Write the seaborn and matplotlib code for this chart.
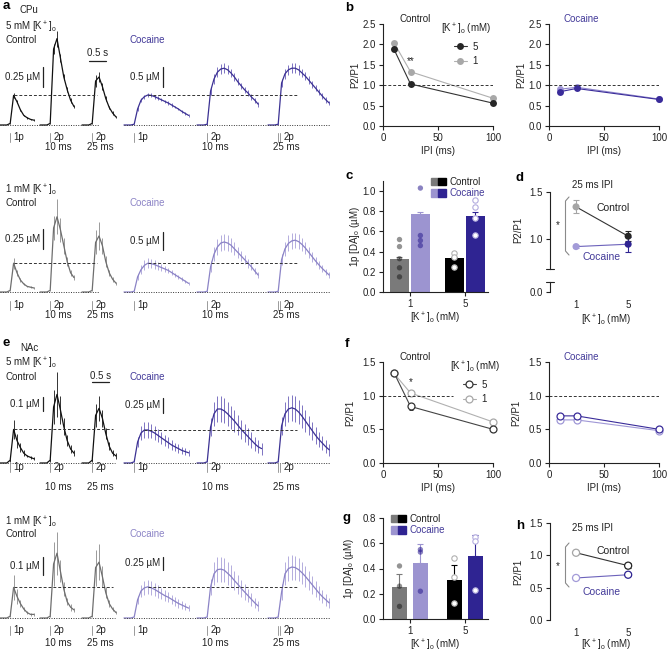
"""Paired-pulse DA release: CPu / NAc FSCV traces and P2/P1, 1p [DA]o summaries."""

import numpy as np
import matplotlib
matplotlib.use("Agg")
import matplotlib.pyplot as plt
from matplotlib.lines import Line2D
from matplotlib.patches import Patch
from matplotlib.legend_handler import HandlerTuple
import seaborn as sns

# ---------------- data ----------------
DT = 0.1  # s between FSCV samples, traces start 0.3 s before stim

# CPu 5 mM [K+]o, [DA]o in uM
cpu5_ctl_1p = [0, 0, 0, 0.02, 0.37, 0.29, 0.19, 0.12, 0.09, 0.07, 0.06]
cpu5_ctl_1p_sem = [0, 0, 0, 0.01, 0.03, 0.02, 0.015, 0.01, 0.01, 0.01, 0.01]
cpu5_ctl_10 = [0, 0, 0, 0.02, 0.95, 1.08, 0.84, 0.60, 0.44, 0.31, 0.23]
cpu5_ctl_10_sem = [0, 0, 0, 0.01, 0.06, 0.10, 0.05, 0.04, 0.03, 0.03, 0.02]
cpu5_ctl_25 = [0, 0, 0, 0.02, 0.55, 0.60, 0.48, 0.33, 0.22, 0.15, 0.10]
cpu5_ctl_25_sem = [0, 0, 0, 0.01, 0.08, 0.06, 0.04, 0.03, 0.02, 0.02, 0.01]
cpu5_coc_1p = [0, 0, 0, 0.02, 0.40, 0.62, 0.71, 0.75, 0.74, 0.71, 0.67, 0.63, 0.59, 0.55, 0.50, 0.45, 0.40, 0.34, 0.29, 0.24]
cpu5_coc_1p_sem = [0, 0, 0, 0.01, 0.04, 0.05, 0.05, 0.05, 0.05, 0.05, 0.05, 0.04, 0.04, 0.04, 0.04, 0.03, 0.03, 0.03, 0.03, 0.03]
cpu5_coc_10 = [0, 0, 0, 0.02, 0.85, 1.15, 1.32, 1.40, 1.42, 1.38, 1.30, 1.20, 1.08, 0.98, 0.88, 0.80, 0.70, 0.62, 0.52]
cpu5_coc_10_sem = [0, 0, 0, 0.02, 0.10, 0.12, 0.12, 0.12, 0.12, 0.11, 0.10, 0.10, 0.09, 0.08, 0.08, 0.07, 0.07, 0.06, 0.06]
cpu5_coc_25 = [0, 0, 0, 0.02, 1.05, 1.28, 1.38, 1.42, 1.42, 1.38, 1.30, 1.22, 1.12, 1.02, 0.92, 0.82, 0.72, 0.63, 0.55]
cpu5_coc_25_sem = [0, 0, 0, 0.02, 0.10, 0.12, 0.13, 0.13, 0.13, 0.12, 0.11, 0.10, 0.10, 0.09, 0.08, 0.08, 0.07, 0.07, 0.06]

# CPu 1 mM [K+]o
cpu1_ctl_1p = [0, 0, 0, 0.02, 0.36, 0.24, 0.15, 0.10, 0.07, 0.06, 0.05]
cpu1_ctl_1p_sem = [0, 0, 0, 0.01, 0.07, 0.04, 0.02, 0.01, 0.01, 0.01, 0.01]
cpu1_ctl_10 = [0, 0, 0, 0.02, 0.80, 0.94, 0.78, 0.58, 0.38, 0.24, 0.18]
cpu1_ctl_10_sem = [0, 0, 0, 0.01, 0.15, 0.22, 0.15, 0.10, 0.06, 0.04, 0.03]
cpu1_ctl_25 = [0, 0, 0, 0.02, 0.62, 0.70, 0.58, 0.38, 0.24, 0.16, 0.11]
cpu1_ctl_25_sem = [0, 0, 0, 0.01, 0.15, 0.18, 0.10, 0.07, 0.04, 0.03, 0.02]
cpu1_coc_1p = [0, 0, 0, 0.02, 0.42, 0.62, 0.74, 0.80, 0.79, 0.76, 0.72, 0.68, 0.64, 0.60, 0.54, 0.48, 0.42, 0.36, 0.30, 0.24]
cpu1_coc_1p_sem = [0, 0, 0, 0.01, 0.08, 0.12, 0.14, 0.14, 0.13, 0.12, 0.11, 0.10, 0.09, 0.08, 0.07, 0.06, 0.05, 0.05, 0.04, 0.04]
cpu1_coc_10 = [0, 0, 0, 0.02, 0.70, 1.05, 1.25, 1.36, 1.39, 1.36, 1.30, 1.20, 1.10, 1.00, 0.90, 0.80, 0.70, 0.58, 0.47]
cpu1_coc_10_sem = [0, 0, 0, 0.01, 0.15, 0.20, 0.22, 0.22, 0.22, 0.21, 0.20, 0.18, 0.16, 0.15, 0.13, 0.12, 0.10, 0.09, 0.08]
cpu1_coc_25 = [0, 0, 0, 0.02, 0.90, 1.20, 1.35, 1.42, 1.44, 1.40, 1.32, 1.22, 1.10, 0.98, 0.86, 0.75, 0.65, 0.56, 0.47]
cpu1_coc_25_sem = [0, 0, 0, 0.01, 0.15, 0.20, 0.22, 0.22, 0.21, 0.20, 0.19, 0.17, 0.15, 0.14, 0.12, 0.11, 0.10, 0.09, 0.08]

# NAc 5 mM [K+]o
nac5_ctl_1p = [0, 0, 0, 0.02, 0.24, 0.16, 0.11, 0.07, 0.05, 0.04, 0.03]
nac5_ctl_1p_sem = [0, 0, 0, 0.01, 0.07, 0.05, 0.03, 0.02, 0.01, 0.01, 0.01]
nac5_ctl_10 = [0, 0, 0, 0.02, 0.40, 0.49, 0.38, 0.26, 0.16, 0.10, 0.07]
nac5_ctl_10_sem = [0, 0, 0, 0.01, 0.12, 0.16, 0.10, 0.06, 0.04, 0.03, 0.02]
nac5_ctl_25 = [0, 0, 0, 0.02, 0.34, 0.39, 0.32, 0.21, 0.12, 0.07, 0.05]
nac5_ctl_25_sem = [0, 0, 0, 0.01, 0.08, 0.09, 0.06, 0.04, 0.03, 0.02, 0.02]
nac5_coc_1p = [0, 0, 0, 0.02, 0.35, 0.50, 0.55, 0.55, 0.53, 0.50, 0.46, 0.42, 0.38, 0.34, 0.30, 0.27, 0.24, 0.21, 0.19, 0.17]
nac5_coc_1p_sem = [0, 0, 0, 0.01, 0.08, 0.12, 0.13, 0.13, 0.12, 0.11, 0.11, 0.10, 0.09, 0.09, 0.08, 0.07, 0.07, 0.06, 0.06, 0.05]
nac5_coc_10 = [0, 0, 0, 0.02, 0.60, 0.82, 0.90, 0.90, 0.87, 0.82, 0.76, 0.70, 0.63, 0.56, 0.50, 0.44, 0.38, 0.32, 0.27, 0.24]
nac5_coc_10_sem = [0, 0, 0, 0.01, 0.15, 0.20, 0.22, 0.22, 0.21, 0.20, 0.19, 0.18, 0.17, 0.16, 0.15, 0.14, 0.13, 0.12, 0.11, 0.10]
nac5_coc_25 = [0, 0, 0, 0.02, 0.62, 0.82, 0.90, 0.92, 0.90, 0.85, 0.78, 0.70, 0.62, 0.54, 0.46, 0.39, 0.33, 0.27, 0.22]
nac5_coc_25_sem = [0, 0, 0, 0.01, 0.15, 0.20, 0.22, 0.22, 0.21, 0.20, 0.19, 0.18, 0.16, 0.15, 0.14, 0.13, 0.12, 0.11, 0.10]

# NAc 1 mM [K+]o
nac1_ctl_1p = [0, 0, 0, 0.01, 0.17, 0.12, 0.08, 0.05, 0.03, 0.02, 0.02]
nac1_ctl_1p_sem = [0, 0, 0, 0.005, 0.07, 0.04, 0.02, 0.01, 0.01, 0.01, 0.01]
nac1_ctl_10 = [0, 0, 0, 0.01, 0.30, 0.36, 0.26, 0.16, 0.09, 0.06, 0.045]
nac1_ctl_10_sem = [0, 0, 0, 0.005, 0.12, 0.12, 0.06, 0.04, 0.02, 0.02, 0.01]
nac1_ctl_25 = [0, 0, 0, 0.01, 0.28, 0.31, 0.23, 0.14, 0.08, 0.05, 0.03]
nac1_ctl_25_sem = [0, 0, 0, 0.005, 0.10, 0.10, 0.06, 0.03, 0.02, 0.01, 0.01]
nac1_coc_1p = [0, 0, 0, 0.02, 0.35, 0.52, 0.58, 0.60, 0.58, 0.55, 0.51, 0.47, 0.43, 0.40, 0.36, 0.32, 0.28, 0.25, 0.22, 0.19]
nac1_coc_1p_sem = [0, 0, 0, 0.01, 0.08, 0.12, 0.14, 0.14, 0.13, 0.13, 0.12, 0.11, 0.10, 0.10, 0.09, 0.08, 0.08, 0.07, 0.07, 0.06]
nac1_coc_10 = [0, 0, 0, 0.02, 0.60, 0.85, 0.93, 0.94, 0.92, 0.86, 0.80, 0.72, 0.65, 0.57, 0.50, 0.43, 0.36, 0.29, 0.23]
nac1_coc_10_sem = [0, 0, 0, 0.01, 0.15, 0.22, 0.24, 0.24, 0.23, 0.22, 0.21, 0.19, 0.18, 0.16, 0.15, 0.13, 0.12, 0.10, 0.09]
nac1_coc_25 = [0, 0, 0, 0.02, 0.50, 0.85, 0.95, 0.98, 0.97, 0.93, 0.87, 0.80, 0.72, 0.64, 0.56, 0.48, 0.41, 0.35, 0.29]
nac1_coc_25_sem = [0, 0, 0, 0.01, 0.15, 0.22, 0.24, 0.24, 0.23, 0.22, 0.21, 0.20, 0.18, 0.17, 0.15, 0.14, 0.12, 0.11, 0.10]

# P2/P1 vs IPI
ipi_ms = [10, 25, 100]
b_ctl5 = [1.88, 1.03, 0.56]
b_ctl5_sem = [0.04, 0.03, 0.03]
b_ctl1 = [2.04, 1.33, 0.68]
b_ctl1_sem = [0.03, 0.05, 0.03]
b_coc5 = [0.84, 0.92, 0.65]
b_coc5_sem = [0.03, 0.03, 0.02]
b_coc1 = [0.90, 0.95, 0.66]
b_coc1_sem = [0.02, 0.03, 0.02]
f_ctl5 = [1.34, 0.84, 0.50]
f_ctl5_sem = [0.02, 0.05, 0.04]
f_ctl1 = [1.33, 1.04, 0.61]
f_ctl1_sem = [0.02, 0.03, 0.03]
f_coc5 = [0.70, 0.70, 0.50]
f_coc5_sem = [0.02, 0.02, 0.02]
f_coc1 = [0.64, 0.64, 0.48]
f_coc1_sem = [0.02, 0.02, 0.02]

# 1p [DA]o bars, [K+]o = 1, 5 mM
conc = ["1", "5"]
c_ctl_mean = [0.33, 0.335]
c_ctl_sem = [0.02, 0.015]
c_coc_mean = [0.77, 0.75]
c_coc_sem = [0.02, 0.04]
c_pts = [[0.52, 0.45, 0.33, 0.24, 0.15], [1.03, 0.56, 0.51, 0.46],
         [0.39, 0.35, 0.25], [0.91, 0.84, 0.73, 0.56]]
g_ctl_mean = [0.255, 0.31]
g_ctl_sem = [0.105, 0.12]
g_coc_mean = [0.44, 0.50]
g_coc_sem = [0.155, 0.165]
g_pts = [[0.42, 0.26, 0.10], [0.55, 0.53, 0.22], [0.48, 0.33, 0.13], [0.65, 0.62, 0.23]]

# P2/P1 at 25 ms IPI
d_ctl = [1.34, 1.03]
d_ctl_sem = [0.07, 0.055]
d_coc = [0.92, 0.945]
d_coc_sem = [0.02, 0.08]
h_ctl = [1.04, 0.84]
h_ctl_sem = [0.02, 0.04]
h_coc = [0.65, 0.70]
h_coc_sem = [0.02, 0.02]

# ---------------- style ----------------
W, H = 667, 653
PX_PER_S = 34.0
CTL_START = [0, 40, 82]
COC_START = [124, 197, 268]
BAR_POS = [-0.19, 0.19, 0.81, 1.19]
BAR_COLS = ["#7a7a7a", "#9c94d0", "#000000", "#2f2492"]
COC_TXT = "#433a99"
COC_TXT_L = "#8c84c6"
INK = "#222222"

sns.set_theme(style="ticks")
plt.rcParams["font.family"] = ["Liberation Sans", "DejaVu Sans"]
plt.rcParams.update({
    "font.size": 7, "mathtext.default": "regular",
    "axes.linewidth": 0.8, "axes.edgecolor": INK, "text.color": INK,
    "xtick.major.size": 3, "ytick.major.size": 3,
    "xtick.major.width": 0.8, "ytick.major.width": 0.8,
    "xtick.major.pad": 2, "ytick.major.pad": 2,
    "xtick.labelsize": 7, "ytick.labelsize": 7,
    "axes.labelsize": 7, "legend.fontsize": 7,
    "xtick.color": INK, "ytick.color": INK, "axes.labelcolor": INK,
})

fig = plt.figure(figsize=(W / 100, H / 100), dpi=100)


def px_axes(x0, y0, x1, y1):
    return fig.add_axes([x0 / W, 1 - y1 / H, (x1 - x0) / W, (y1 - y0) / H])


def ftext(x, y, s, **kw):
    kw.setdefault("fontsize", 7)
    kw.setdefault("va", "center")
    fig.text(x / W, 1 - y / H, s, **kw)


def fline(xs, ys, **kw):
    fig.add_artist(Line2D([x / W for x in xs], [1 - y / H for y in ys],
                          transform=fig.transFigure, **kw))


# ---------------- traces ----------------
def draw_traces(x0, x1, top, base, k, traces, starts, col, ecol,
                dash_end, dot_end, lab_dy, ms_dy, double_last):
    ax = px_axes(x0, top, x1, base + 2)
    ax.set_xlim(0, (x1 - x0) / PX_PER_S)
    ax.set_ylim(-2 / k, (base - top) / k)
    ax.axis("off")
    t_stim = []
    peak = None
    for i, ((v, s), st) in enumerate(zip(traces, starts)):
        t = (st - x0) / PX_PER_S + DT * np.arange(len(v))
        ax.errorbar(t, v, yerr=s, fmt="none", ecolor=ecol, elinewidth=0.7, capsize=0)
        sns.lineplot(x=t, y=v, ax=ax, color=col, lw=0.9)
        t_stim.append(t[3])
        if i == 0:
            j = int(np.argmax(v))
            peak = (t[j], v[j])
    ax.plot([peak[0], (dash_end - x0) / PX_PER_S], [peak[1], peak[1]],
            ls=(0, (3, 2)), color="#333333", lw=0.7)
    ax.plot([(starts[0] - x0) / PX_PER_S, (dot_end - x0) / PX_PER_S], [0, 0],
            ls=(0, (1, 1.5)), color="#333333", lw=0.7)
    yl = -lab_dy / k
    for i, ts in enumerate(t_stim):
        marks = [ts, ts + 0.06] if (double_last and i == 2) else [ts]
        for tt in marks:
            ax.plot([tt, tt], [yl - 4.5 / k, yl + 4.5 / k], color="#9a9a9a",
                    lw=0.7, clip_on=False)
        ax.annotate("1p" if i == 0 else "2p", (marks[-1], yl), xytext=(3, 0),
                    textcoords="offset pixels", ha="left", va="center",
                    fontsize=7, annotation_clip=False)
        if i:
            ax.annotate(["", "10 ms", "25 ms"][i], (ts, yl),
                        xytext=(8, -(ms_dy - lab_dy)), textcoords="offset pixels",
                        ha="center", va="center", fontsize=7, annotation_clip=False)
    return ax


def scale_bar(ax, x0, base, k, bar_x, bar_bot, length, label):
    bx = (bar_x - x0) / PX_PER_S
    yb = (base - bar_bot) / k
    ax.plot([bx, bx], [yb, yb + length], color=INK, lw=0.9, clip_on=False)
    ax.annotate(label, (bx, yb + length / 2), xytext=(-3, 0), textcoords="offset pixels",
                ha="right", va="center", fontsize=7, annotation_clip=False)


def time_bar(ax, base, k, bar_x, bar_y, gap):
    tx = bar_x / PX_PER_S
    y = (base - bar_y) / k
    ax.plot([tx, tx + 0.5], [y, y], color=INK, lw=0.9, clip_on=False)
    ax.annotate("0.5 s", (tx + 0.25, y), xytext=(0, gap), textcoords="offset pixels",
                ha="center", va="center", fontsize=7, annotation_clip=False)


def trace_row(base, top, k_ctl, k_coc, ctl, coc, ctl_cols, coc_cols, bars,
              lab_dy, ms_dy, ctl_end, tbar=None):
    axc = draw_traces(0, 118, top, base, k_ctl, ctl, CTL_START, *ctl_cols,
                      ctl_end - 2, ctl_end, lab_dy, ms_dy, False)
    scale_bar(axc, 0, base, k_ctl, 43, *bars[0])
    axk = draw_traces(122, 332, top, base, k_coc, coc, COC_START, *coc_cols,
                      297, 330, lab_dy, ms_dy, True)
    scale_bar(axk, 122, base, k_coc, 163, *bars[1])
    if tbar:
        time_bar(axc, base, k_ctl, *tbar)


DARK = ("#111111", "#333333")
GREY = ("#6e6e6e", "#9a9a9a")
COC_D = ("#3b3193", "#7d73c2")
COC_L = ("#8b83c6", "#b4addd")

trace_row(125, 18, 80, 40,
          [(cpu5_ctl_1p, cpu5_ctl_1p_sem), (cpu5_ctl_10, cpu5_ctl_10_sem), (cpu5_ctl_25, cpu5_ctl_25_sem)],
          [(cpu5_coc_1p, cpu5_coc_1p_sem), (cpu5_coc_10, cpu5_coc_10_sem), (cpu5_coc_25, cpu5_coc_25_sem)],
          DARK, COC_D, [(87, 0.25, "0.25 µM"), (87, 0.5, "0.5 µM")], 12, 22, 99, (89, 61, 8))
trace_row(292, 185, 80, 36,
          [(cpu1_ctl_1p, cpu1_ctl_1p_sem), (cpu1_ctl_10, cpu1_ctl_10_sem), (cpu1_ctl_25, cpu1_ctl_25_sem)],
          [(cpu1_coc_1p, cpu1_coc_1p_sem), (cpu1_coc_10, cpu1_coc_10_sem), (cpu1_coc_25, cpu1_coc_25_sem)],
          GREY, COC_L, [(249, 0.25, "0.25 µM"), (250, 0.5, "0.5 µM")], 13, 23, 99)
trace_row(463, 355, 140, 60,
          [(nac5_ctl_1p, nac5_ctl_1p_sem), (nac5_ctl_10, nac5_ctl_10_sem), (nac5_ctl_25, nac5_ctl_25_sem)],
          [(nac5_coc_1p, nac5_coc_1p_sem), (nac5_coc_10, nac5_coc_10_sem), (nac5_coc_25, nac5_coc_25_sem)],
          DARK, COC_D, [(411, 0.1, "0.1 µM"), (413, 0.25, "0.25 µM")], 4, 24, 115, (92, 382, 6))
trace_row(618, 515, 180, 52,
          [(nac1_ctl_1p, nac1_ctl_1p_sem), (nac1_ctl_10, nac1_ctl_10_sem), (nac1_ctl_25, nac1_ctl_25_sem)],
          [(nac1_coc_1p, nac1_coc_1p_sem), (nac1_coc_10, nac1_coc_10_sem), (nac1_coc_25, nac1_coc_25_sem)],
          GREY, COC_L, [(575, 0.1, "0.1 µM"), (570, 0.25, "0.25 µM")], 12, 25, 115)

ftext(20, 10, "CPu")
ftext(5, 27, "5 mM [K$^+$]$_o$")
ftext(5, 40, "Control")
ftext(130, 40, "Cocaine", color=COC_TXT)
ftext(5, 190, "1 mM [K$^+$]$_o$")
ftext(5, 203, "Control")
ftext(130, 203, "Cocaine", color=COC_TXT_L)
ftext(20, 348, "NAc")
ftext(5, 363, "5 mM [K$^+$]$_o$")
ftext(5, 377, "Control")
ftext(130, 377, "Cocaine", color=COC_TXT)
ftext(5, 522, "1 mM [K$^+$]$_o$")
ftext(5, 534, "Control")
ftext(130, 534, "Cocaine", color=COC_TXT_L)

for lab, x, y in [("a", 3, 6), ("b", 345, 8), ("c", 345, 176), ("d", 516, 178),
                  ("e", 3, 343), ("f", 345, 344), ("g", 343, 518), ("h", 516, 526)]:
    ftext(x, y, lab, fontsize=9.5, fontweight="bold", ha="left", color="black")


# ---------------- P2/P1 vs IPI ----------------
def ipi_panel(x0, y0, y1, ylim, yticks, series, title, title_col, dash_to,
              filled, xlab_y, ylab_x, legend_xy=None, star=None):
    ax = px_axes(x0, y0, x0 + 110, y1)
    for vals, sem, col, lcol in series:
        ax.errorbar(ipi_ms, vals, yerr=sem, fmt="none", ecolor=col, elinewidth=0.7,
                    capsize=1.5, capthick=0.7, clip_on=False)
        mk = dict(markerfacecolor=col, markeredgewidth=0) if filled else \
            dict(markerfacecolor="white", markeredgecolor=col, markeredgewidth=0.9)
        sns.lineplot(x=ipi_ms, y=vals, ax=ax, color=lcol, lw=0.8, marker="o",
                     markersize=5, clip_on=False, **mk)
    ax.plot([0, dash_to], [1, 1], ls=(0, (3, 2)), color="#333333", lw=0.7)
    ax.set_xlim(0, 100)
    ax.set_ylim(*ylim)
    ax.set_xticks([0, 50, 100])
    ax.set_yticks(yticks)
    ax.yaxis.set_major_formatter(matplotlib.ticker.FormatStrFormatter("%.1f"))
    sns.despine(ax=ax)
    ax.set_xlabel("IPI (ms)")
    ax.set_ylabel("P2/P1")
    hpx = y1 - y0
    ax.xaxis.set_label_coords(0.5, -(xlab_y - y1) / hpx)
    ax.xaxis.label.set_va("center")
    ax.yaxis.set_label_coords((ylab_x - x0) / 110, 0.5)
    ax.yaxis.label.set_va("center")
    ax.text(0.29, (y1 - (y0 - 5)) / hpx, title, color=title_col, transform=ax.transAxes,
            ha="center", va="center", fontsize=7)
    if legend_xy:
        hs = [Line2D([], [], color=lc, marker="o", ms=5, lw=0.8,
                     mfc=(c if filled else "white"), mec=c, mew=(0 if filled else 0.9))
              for _, _, c, lc in series[::-1]]
        ax.legend(hs, ["5", "1"], title="[K$^+$]$_o$ (mM)", loc="upper left",
                  bbox_to_anchor=((legend_xy[0] - x0) / 110, (y1 - legend_xy[1]) / hpx),
                  frameon=False, fontsize=7, title_fontsize=7, handlelength=1.3,
                  handletextpad=0.6, labelspacing=0.45, borderpad=0, borderaxespad=0)
    if star:
        ax.text(25, star[1], star[0], ha="center", va="center", fontsize=7)
    return ax


ipi_panel(383, 24, 126, (0, 2.5), np.arange(0, 2.6, 0.5),
          [(b_ctl1, b_ctl1_sem, "#a8a8a8", "#b0b0b0"), (b_ctl5, b_ctl5_sem, "#262626", "#333333")],
          "Control", INK, 100, True, 151, 355, (441, 22), ("**", 1.6))
ipi_panel(549, 24, 126, (0, 2.5), np.arange(0, 2.6, 0.5),
          [(b_coc1, b_coc1_sem, "#9f97d6", "#8f86cc"), (b_coc5, b_coc5_sem, "#3a2c9a", "#3a2c9a")],
          "Cocaine", COC_TXT, 100, True, 151, 521)
ipi_panel(383, 362, 463, (0, 1.5), [0, 0.5, 1.0, 1.5],
          [(f_ctl1, f_ctl1_sem, "#a8a8a8", "#b0b0b0"), (f_ctl5, f_ctl5_sem, "#333333", "#444444")],
          "Control", INK, 64, False, 488, 350, (450, 360), ("*", 1.2))
ipi_panel(549, 362, 463, (0, 1.5), [0, 0.5, 1.0, 1.5],
          [(f_coc1, f_coc1_sem, "#9f97d6", "#9f97d6"), (f_coc5, f_coc5_sem, "#3a2c9a", "#3a2c9a")],
          "Cocaine", COC_TXT, 100, False, 488, 516)


# ---------------- 1p [DA]o bars ----------------
def bar_panel(y0, y1, ylim, yticks, ctl_mean, ctl_sem, coc_mean, coc_sem, pts,
              width, xlab_y, ylab_x, leg_xy):
    ax = px_axes(383, y0, 488, y1)
    means = [ctl_mean[0], coc_mean[0], ctl_mean[1], coc_mean[1]]
    sems = [ctl_sem[0], coc_sem[0], ctl_sem[1], coc_sem[1]]
    sns.barplot(x=BAR_POS, y=means, hue=["c1", "k1", "c5", "k5"], palette=BAR_COLS,
                native_scale=True, dodge=False, width=width / 0.38, errorbar=None,
                saturation=1, legend=False, linewidth=0, ax=ax)
    for p, m, s, c in zip(BAR_POS, means, sems, BAR_COLS):
        ax.errorbar([p], [m], yerr=[[0], [s]], fmt="none", ecolor=c, elinewidth=0.8,
                    capsize=2.5, capthick=0.8, clip_on=False)
    styles = [dict(color="#000000", alpha=0.42, edgecolor="none"),
              dict(color="#2a1c8f", alpha=0.55, edgecolor="none"),
              dict(facecolor="white", edgecolor="#b0b0b0", linewidth=0.8),
              dict(facecolor="white", edgecolor="#b3acdf", linewidth=0.8)]
    for p, vals, st in zip(BAR_POS, pts, styles):
        sns.scatterplot(x=[p] * len(vals), y=vals, s=15, ax=ax, legend=False,
                        zorder=3, clip_on=False, **st)
    ax.set_xlim(-0.49, 1.42)
    ax.set_ylim(*ylim)
    ax.set_yticks(yticks)
    ax.yaxis.set_major_formatter(matplotlib.ticker.FormatStrFormatter("%.1f"))
    ax.set_xticks([0, 1], conc)
    sns.despine(ax=ax)
    ax.set_xlabel("[K$^+$]$_o$ (mM)")
    ax.set_ylabel("1p [DA]$_o$ (µM)")
    hpx = y1 - y0
    ax.xaxis.set_label_coords(0.5, -(xlab_y - y1) / hpx)
    ax.xaxis.label.set_va("center")
    ax.yaxis.set_label_coords((ylab_x - 383) / 105, 0.5)
    ax.yaxis.label.set_va("center")
    hs = [(Patch(color=BAR_COLS[0]), Patch(color=BAR_COLS[2])),
          (Patch(color=BAR_COLS[1]), Patch(color=BAR_COLS[3]))]
    leg = ax.legend(hs, ["Control", "Cocaine"], handler_map={tuple: HandlerTuple(ndivide=None, pad=0)},
                    loc="upper left", bbox_to_anchor=((leg_xy[0] - 383) / 105, (y1 - leg_xy[1]) / hpx),
                    frameon=False, handlelength=1.5, handleheight=0.8, handletextpad=0.4,
                    labelspacing=0.15, borderpad=0, borderaxespad=0, fontsize=7)
    leg.get_texts()[1].set_color(COC_TXT)


bar_panel(181, 292, (0, 1.1), np.arange(0, 1.01, 0.2), c_ctl_mean, c_ctl_sem,
          c_coc_mean, c_coc_sem, c_pts, 0.34, 318, 355, (431, 177))
bar_panel(518, 619, (0, 0.8), np.arange(0, 0.81, 0.2), g_ctl_mean, g_ctl_sem,
          g_coc_mean, g_coc_sem, g_pts, 0.28, 645, 349, (391, 514))


# ---------------- P2/P1 at 25 ms IPI ----------------
def pair_points(ax, ctl, ctl_sem, coc, coc_sem, filled):
    xs = list(range(len(conc)))
    for vals, sem, lcol, pcols in [(ctl, ctl_sem, "#333333", ["#a5a5a5", "#262626"]),
                                   (coc, coc_sem, "#6c62bb", ["#a39bd8", "#2f2492"])]:
        sns.lineplot(x=xs, y=vals, ax=ax, color=lcol, lw=0.8, clip_on=False)
        for x, v, s, c in zip(xs, vals, sem, pcols):
            ax.errorbar([x], [v], yerr=[s], fmt="none", ecolor=c, elinewidth=0.8,
                        capsize=2.5, capthick=0.8, clip_on=False)
        sns.scatterplot(x=xs, y=vals, hue=conc, palette=pcols, s=26, ax=ax, legend=False,
                        zorder=3, clip_on=False, linewidth=0)
        coll = ax.collections[-1]
        if not filled:
            fc = coll.get_facecolors()
            coll.set_edgecolors(fc)
            coll.set_facecolors("white")
            coll.set_linewidth(0.9)


def pair_decor(x0, y_text, y_ctl, y_coc, br0, br1, star_y):
    ftext(x0 + 42, y_text, "25 ms IPI", ha="center")
    ftext(x0 + 63, y_ctl, "Control", ha="center", fontsize=7.5)
    ftext(x0 + 52, y_coc, "Cocaine", ha="center", fontsize=7.5, color=COC_TXT)
    fline([569, 565.5, 565.5, 569], [br0, br0 + 4, br1 - 4, br1], color="#8a8a8a", lw=0.8)
    ftext(558, star_y, "*", ha="center")


d_top = px_axes(550, 191.7, 662, 269)
pair_points(d_top, d_ctl, d_ctl_sem, d_coc, d_coc_sem, True)
d_top.set_xlim(-0.5, 1.65)
d_top.set_ylim(0.683, 1.5)
d_top.set_yticks([1.0, 1.5])
d_top.yaxis.set_major_formatter(matplotlib.ticker.FormatStrFormatter("%.1f"))
d_top.xaxis.set_visible(False)
sns.despine(ax=d_top, bottom=True)
d_top.set_ylabel("P2/P1")
d_top.yaxis.set_label_coords((518 - 550) / 112, 0.5)
d_top.yaxis.label.set_va("center")
d_top.plot([-0.035, 0.035], [0, 0], transform=d_top.transAxes, color=INK, lw=0.8, clip_on=False)

d_bot = px_axes(550, 282, 662, 292)
d_bot.set_xlim(-0.5, 1.65)
d_bot.set_ylim(0, 0.106)
d_bot.set_yticks([0.0])
d_bot.yaxis.set_major_formatter(matplotlib.ticker.FormatStrFormatter("%.1f"))
d_bot.set_xticks([0, 1], conc)
d_bot.tick_params(axis="x", length=0, pad=6)
sns.despine(ax=d_bot, bottom=True)
d_bot.plot([-0.035, 0.035], [1, 1], transform=d_bot.transAxes, color=INK, lw=0.8, clip_on=False)
d_bot.set_xlabel("[K$^+$]$_o$ (mM)")
d_bot.xaxis.set_label_coords(0.5, -(320 - 292) / 10)
d_bot.xaxis.label.set_va("center")
pair_decor(550, 185, 208, 257, 197, 255, 225)

h_ax = px_axes(550, 523, 662, 620)
pair_points(h_ax, h_ctl, h_ctl_sem, h_coc, h_coc_sem, False)
h_ax.set_xlim(-0.5, 1.65)
h_ax.set_ylim(0, 1.5)
h_ax.set_yticks([0, 0.5, 1.0, 1.5])
h_ax.yaxis.set_major_formatter(matplotlib.ticker.FormatStrFormatter("%.1f"))
h_ax.set_xticks([0, 1], conc)
h_ax.tick_params(axis="x", length=0, pad=6)
sns.despine(ax=h_ax, bottom=True)
h_ax.set_ylabel("P2/P1")
h_ax.yaxis.set_label_coords((518 - 550) / 112, 0.5)
h_ax.yaxis.label.set_va("center")
h_ax.set_xlabel("[K$^+$]$_o$ (mM)")
h_ax.xaxis.set_label_coords(0.5, -(645 - 620) / 97)
h_ax.xaxis.label.set_va("center")
pair_decor(550, 528, 551, 592, 543, 587, 566)

fig.savefig("out.png", dpi=100)
plt.close(fig)
